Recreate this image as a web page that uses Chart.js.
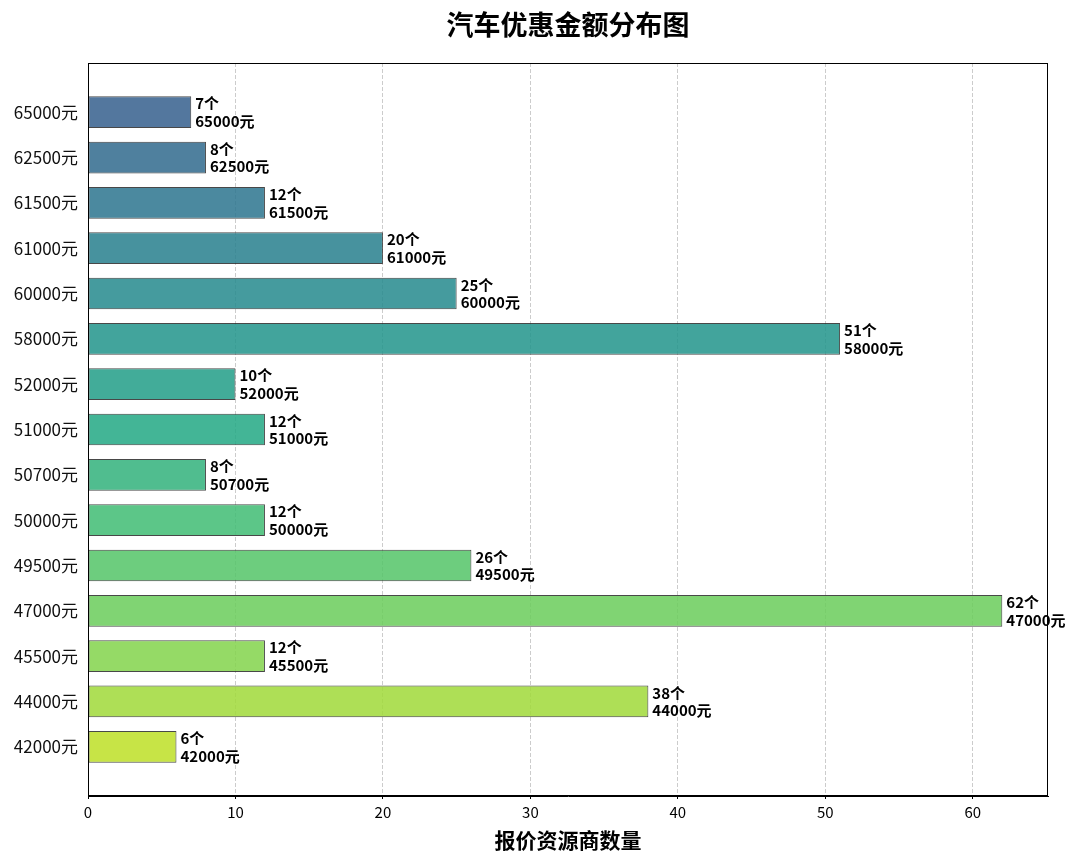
<!DOCTYPE html>
<html><head><meta charset="utf-8">
<script src="https://cdn.jsdelivr.net/npm/chart.js@4/dist/chart.umd.min.js"></script>
<style>html,body{margin:0;padding:0;background:#fff}</style>
</head><body>
<canvas id="c" width="1080" height="862"></canvas>
<script>
const chartTitle = '汽车优惠金额分布图';
const xTitle = '报价资源商数量';
const categories = ['65000元','62500元','61500元','61000元','60000元','58000元','52000元','51000元','50700元','50000元','49500元','47000元','45500元','44000元','42000元'];
const counts = [7, 8, 12, 20, 25, 51, 10, 12, 8, 12, 26, 62, 12, 38, 6];
const xTicks = [0, 10, 20, 30, 40, 50, 60];
const barColors = ['#355f8d','#306a8d','#2c748e','#277f8d','#248a8d','#21948b','#219e87','#22a884','#31b27b','#3fbc73','#54c467','#6acc5a','#83d34b','#a0d938','#bddf26'];

const FONT = '"Noto Sans CJK SC", "Noto Sans", sans-serif';
function withAlpha(hex, a) {
  const n = parseInt(hex.slice(1), 16);
  return `rgba(${(n>>16)&255},${(n>>8)&255},${n&255},${a})`;
}

const overlay = {
  id: 'overlay',
  afterDatasetsDraw(chart) {
    const ctx = chart.ctx, ca = chart.chartArea;
    ctx.save();
    ctx.strokeStyle = '#000'; ctx.lineWidth = 1;
    ctx.strokeRect(Math.round(ca.left) + 0.5, Math.round(ca.top) + 0.5, Math.round(ca.right - ca.left) - 1, Math.round(ca.bottom - ca.top) - 1);
    const meta = chart.getDatasetMeta(0);
    ctx.fillStyle = '#000';
    ctx.font = 'bold 15px ' + FONT;
    ctx.textAlign = 'left'; ctx.textBaseline = 'middle';
    meta.data.forEach((el, i) => {
      ctx.fillText(counts[i] + '个', el.x + 4, el.y - 8.5);
      ctx.fillText(categories[i], el.x + 4, el.y + 9);
    });
    ctx.font = 'bold 27px ' + FONT;
    ctx.textAlign = 'center';
    ctx.fillText(chartTitle, (ca.left + ca.right) / 2, 25);
    ctx.restore();
  }
};

new Chart(document.getElementById('c'), {
  type: 'bar',
  data: {
    datasets: [{
      data: counts.map((v, i) => ({ x: v, y: i })),
      backgroundColor: barColors.map(c => withAlpha(c, 0.85)),
      borderColor: 'rgba(40,40,40,0.85)',
      borderWidth: 1,
      borderSkipped: false,
      barPercentage: 0.7,
      categoryPercentage: 1.0
    }]
  },
  options: {
    indexAxis: 'y',
    responsive: false,
    animation: false,
    layout: { padding: { top: 63, right: 32, left: 10, bottom: 0 } },
    plugins: { legend: { display: false }, tooltip: { enabled: false }, title: { display: false } },
    scales: {
      x: {
        type: 'linear', min: 0, max: 65.1, offset: false,
        afterBuildTicks: s => { s.ticks = xTicks.map(v => ({ value: v })); },
        afterFit: s => { s.height = 66; },
        ticks: { color: '#000', font: { family: FONT, size: 15 }, padding: 4 },
        grid: { display: true, color: 'rgba(0,0,0,0.2)', lineWidth: 1, tickColor: '#000', tickLength: 3, tickBorderDash: [] },
        border: { display: true, color: '#000', dash: [4, 2] },
        title: { display: true, text: xTitle, color: '#000', font: { family: FONT, size: 21, weight: 'bold' }, padding: { top: 0, bottom: 9 } }
      },
      y: {
        type: 'linear', reverse: true, min: -1.085, max: 15.085, offset: false,
        afterBuildTicks: s => { s.ticks = categories.map((_, i) => ({ value: i })); },
        afterFit: s => { s.width = 78; },
        ticks: { color: '#111', font: { family: FONT, size: 17 }, padding: 10, callback: v => categories[v] },
        grid: { display: true, drawOnChartArea: false, drawTicks: false, offset: false },
        border: { display: true, color: '#000' }
      }
    }
  },
  plugins: [overlay]
});
</script>
</body></html>
